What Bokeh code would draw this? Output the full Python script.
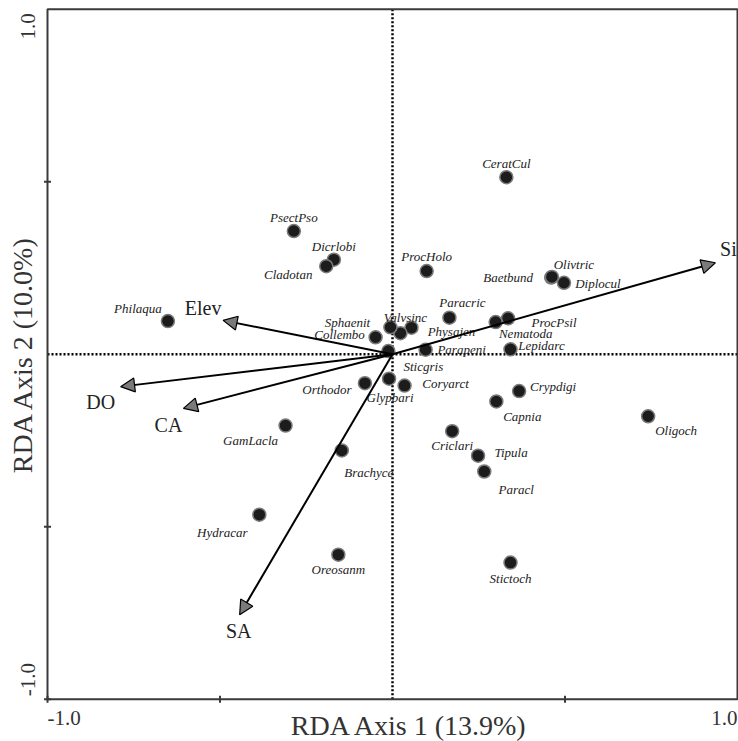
import math
from bokeh.plotting import figure
from bokeh.models import ColumnDataSource, Arrow, NormalHead, Range1d
from bokeh.core.properties import value
from bokeh.embed import file_html
from bokeh.resources import INLINE

# ---- data -------------------------------------------------------------
species = ["CeratCul", "PsectPso", "Dicrlobi", "Cladotan", "Philaqua", "ProcHolo",
           "Baetbund", "Olivtric", "Diplocul", "Paracric", "ProcPsil", "Nematoda",
           "Lepidarc", "Parapeni", "Physajen", "Valvsinc", "Sphaenit", "Collembo",
           "Sticgris", "Coryarct", "Glypbari", "Orthodor", "GamLacla", "Brachyce",
           "Hydracar", "Oreosanm", "Criclari", "Tipula", "Paracl", "Capnia",
           "Crypdigi", "Oligoch", "Stictoch"]
sp_x = [0.330, -0.286, -0.170, -0.192, -0.651, 0.099,
        0.460, 0.462, 0.497, 0.165, 0.335, 0.299,
        0.342, 0.096, 0.055, 0.023, -0.006, -0.049,
        -0.012, 0.035, -0.010, -0.080, -0.310, -0.147,
        -0.386, -0.157, 0.173, 0.248, 0.266, 0.301,
        0.367, 0.741, 0.342]
sp_y = [0.513, 0.357, 0.274, 0.255, 0.096, 0.241,
        0.222, 0.224, 0.207, 0.106, 0.104, 0.093,
        0.014, 0.013, 0.077, 0.061, 0.078, 0.049,
        0.009, -0.091, -0.071, -0.084, -0.207, -0.279,
        -0.465, -0.581, -0.223, -0.294, -0.340, -0.137,
        -0.107, -0.180, -0.604]

variables = ["Si", "Elev", "DO", "CA", "SA"]
var_x = [0.936, -0.491, -0.788, -0.606, -0.443]
var_y = [0.265, 0.098, -0.094, -0.157, -0.755]

axis1_label = "RDA Axis 1 (13.9%)"
axis2_label = "RDA Axis 2 (10.0%)"
axis_min, axis_max = -1.0, 1.0
minor_ticks = [-0.5, 0.5]
tick_labels = ["-1.0", "1.0"]

# ---- label placement (screen px, +down) --------------------------------
sp_off = {
    "CeratCul": (0, -14), "PsectPso": (0, -14), "Dicrlobi": (0, -13),
    "Cladotan": (-38, 8), "Philaqua": (-30, -13), "ProcHolo": (0, -15),
    "Baetbund": (-43, 0), "Olivtric": (22, -12), "Diplocul": (34, 1),
    "Paracric": (13, -15), "ProcPsil": (46, 4), "Nematoda": (30, 11),
    "Lepidarc": (31, -4), "Parapeni": (36, 0), "Physajen": (40, 4),
    "Valvsinc": (5, -16), "Sphaenit": (-43, -5), "Collembo": (-36, -3),
    "Sticgris": (35, 15), "Coryarct": (41, -2), "Glypbari": (1, 19),
    "Orthodor": (-38, 6), "GamLacla": (-35, 15), "Brachyce": (27, 22),
    "Hydracar": (-37, 18), "Oreosanm": (0, 15), "Criclari": (0, 14),
    "Tipula": (33, -3), "Paracl": (32, 18), "Capnia": (26, 15),
    "Crypdigi": (34, -5), "Oligoch": (28, 14), "Stictoch": (0, 16),
}
var_off = {"Si": (13, -14), "Elev": (-20, -12), "DO": (-20, 15),
           "CA": (-15, 17), "SA": (-1, 16)}

SERIF = "Liberation Serif"
DARK = "#3a3a3a"
TXT = "#222222"

# canvas geometry: the data box [-1,1]^2 occupies px 47..737 x 8.7..698.7
W, H = 738, 741
PX = 345.0
LEFT, RIGHT, TOP, BOTTOM = 47, 1, 8.7, 42.3

p = figure(width=W, height=H, output_backend="svg", toolbar_location=None,
           x_range=Range1d(axis_min - LEFT / PX, axis_max + RIGHT / PX),
           y_range=Range1d(axis_min - BOTTOM / PX, axis_max + TOP / PX),
           x_axis_type=None, y_axis_type=None, min_border=0)
p.grid.visible = False
p.outline_line_color = None
p.background_fill_color = "white"
p.border_fill_color = "white"

# zero reference lines (dotted)
p.segment(x0=[axis_min, 0], y0=[0, axis_min], x1=[axis_max, 0], y1=[0, axis_max],
          line_color="black", line_width=2.5, line_dash="2 2")

# frame box
p.quad(left=[axis_min], right=[axis_max], bottom=[axis_min], top=[axis_max],
       fill_color=None, line_color=DARK, line_width=2)

# tick marks crossing the frame (bottom and left)
p.scatter(x=minor_ticks + [axis_min], y=[axis_min] * 3, marker="dash", size=7,
          angle=math.pi / 2, line_color=DARK, line_width=2)
p.scatter(x=[axis_min] * 3, y=minor_ticks + [axis_min], marker="dash", size=7,
          line_color=DARK, line_width=2)

# biplot arrows
vsrc = ColumnDataSource(dict(x0=[0] * len(variables), y0=[0] * len(variables),
                             x1=var_x, y1=var_y))
p.add_layout(Arrow(source=vsrc, x_start="x0", y_start="y0", x_end="x1", y_end="y1",
                   line_color="black", line_width=2,
                   end=NormalHead(size=14, fill_color="#7a7a7a",
                                  line_color="black", line_width=1.2)))

# species points
ssrc = ColumnDataSource(dict(x=sp_x, y=sp_y, name=species,
                             dx=[sp_off[s][0] for s in species],
                             dy=[sp_off[s][1] for s in species]))
p.scatter("x", "y", source=ssrc, size=13, fill_color="#1c1c1c",
          line_color="#7a7a7a", line_width=1.5)
p.text("x", "y", text="name", source=ssrc, x_offset="dx", y_offset="dy",
       text_font=value(SERIF), text_font_style="italic",
       text_font_size="13px", text_align="center", text_baseline="middle",
       text_color=TXT)

vlsrc = ColumnDataSource(dict(x=var_x, y=var_y, name=variables,
                              dx=[var_off[v][0] for v in variables],
                              dy=[var_off[v][1] for v in variables]))
p.text("x", "y", text="name", source=vlsrc, x_offset="dx", y_offset="dy",
       text_font=value(SERIF), text_font_size="20px", text_align="center",
       text_baseline="middle", text_color=TXT)

# tick labels
tk = dict(text_font=value(SERIF), text_font_size="21px", text_color="#333333")
p.text(x=[axis_min], y=[axis_min], text=[tick_labels[0]], text_align="left",
       text_baseline="top", y_offset=12, **tk)
p.text(x=[axis_max], y=[axis_min], text=[tick_labels[1]], text_align="right",
       text_baseline="top", y_offset=12, **tk)
p.text(x=[axis_min], y=[axis_max], text=[tick_labels[1]], text_align="right",
       text_baseline="middle", angle=math.pi / 2, x_offset=-20, y_offset=4, **tk)
p.text(x=[axis_min], y=[axis_min], text=[tick_labels[0]], text_align="left",
       text_baseline="middle", angle=math.pi / 2, x_offset=-20, y_offset=-3, **tk)

# axis titles
tt = dict(text_font=value(SERIF), text_font_size="28px", text_color="#333333")
p.text(x=[0.05], y=[axis_min], text=[axis1_label], text_align="center",
       text_baseline="middle", y_offset=26, **tt)
p.text(x=[axis_min], y=[0], text=[axis2_label], text_align="center",
       text_baseline="middle", angle=math.pi / 2, x_offset=-25, **tt)

open("out.html", "w").write(file_html(p, INLINE))
